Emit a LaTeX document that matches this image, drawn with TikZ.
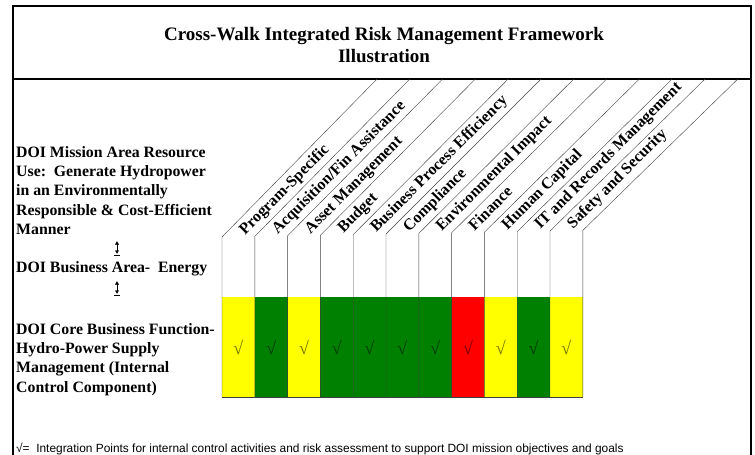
\documentclass[tikz,border=0pt]{standalone}
\usepackage{fontspec}
\setmainfont{Liberation Serif}
\setsansfont{Liberation Sans}
\usetikzlibrary{arrows.meta}

\definecolor{cellyellow}{RGB}{255,255,0}
\definecolor{cellgreen}{RGB}{0,128,0}
\definecolor{cellred}{RGB}{255,0,0}

\begin{document}
\begin{tikzpicture}[x = 1pt, y = -1pt, > = {Latex[length = 3.5pt, width = 4pt]},
	every node/.style = {text = black, inner sep = 0pt},
	lefttext/.style = {font = \bfseries\fontsize{15.8}{19.3}\selectfont, align = left},
	colname/.style = {font = \bfseries\fontsize{16}{16}\selectfont, rotate = 45, anchor = base west}]

	% Definitions

	\def\X{222}		% Left edge of first column
	\def\W{32.8}	% Column width
	\def\K{237}		% Height where the first column line bends
	\def\T{297}		% Top of colour band
	\def\B{397}		% Bottom of colour band
	\def\D{79}		% Title divider
	\def\S{155}		% Run of slanted lines

	\useasboundingbox (0, 0) rectangle (755, 455);

	% Frame and title

	\draw [line width = 1.6pt] (13, 470) -- (13, 6) -- (751, 6) -- (751, 470);
	\draw [line width = 1.2pt] (13, \D) -- (751, \D);
	\node [font = \bfseries\fontsize{19}{22.5}\selectfont, align = center, anchor = north] (title) at (384, 27)
		{Cross-Walk Integrated Risk Management Framework\\Illustration};

	% Descriptions on the left

	\node [lefttext, anchor = north west] (mission) at (16, 146)
		{DOI Mission Area Resource\\Use:~~Generate Hydropower\\in an Environmentally\\Responsible \& Cost-Efficient\\Manner};
	\node [lefttext, anchor = base west] (business) at (16, 272) {DOI Business Area-~~Energy};
	\node [lefttext, anchor = north west] (core) at (16, 323)
		{DOI Core Business Function-\\Hydro-Power Supply\\Management (Internal\\Control Component)};

	% Arrows between the descriptions

	\coordinate (top1) at (117, 241);
	\coordinate (bot1) at (117, 254);
	\coordinate (top2) at (117, 281);
	\coordinate (bot2) at (117, 294);

	\begin{scope}[<->, thin]
		\draw (top1) -- (bot1);
		\draw (top2) -- (bot2);
	\end{scope}
	\draw ([xshift = -3pt, yshift = -1.5pt] bot1) -- ([xshift = 3pt, yshift = -1.5pt] bot1);
	\draw ([xshift = -3pt, yshift = -1.5pt] bot2) -- ([xshift = 3pt, yshift = -1.5pt] bot2);

	% Coloured cells, check marks and column names

	\foreach \lbl/\clr [count = \i] in {Program-Specific/cellyellow, {Acquisition/Fin Assistance}/cellgreen,
		Asset Management/cellyellow, Budget/cellgreen, Business Process Efficiency/cellgreen,
		Compliance/cellgreen, Environmental Impact/cellgreen, Finance/cellred,
		Human Capital/cellyellow, IT and Records Management/cellgreen, Safety and Security/cellyellow}
	{
		\pgfmathsetmacro{\xl}{\X + (\i - 1) * \W}
		\pgfmathsetmacro{\xr}{\X + \i * \W}
		\fill [\clr] (\xl, \T) rectangle (\xr, \B);
		\node [font = \fontsize{18}{18}\selectfont, text opacity = 0.55] (chk\i) at ({(\xl + \xr) / 2}, 347) {√};
		\node [colname] (col\i) at (\xl + 23, {\K - 0.6 * \i - 1}) {\lbl};
	}

	% Column lines, bent up to the title divider

	\foreach \i in {0, ..., 11}
		\draw [thin, black!75] (\X + \i * \W, \B) -- (\X + \i * \W, \K - 0.6 * \i) -- (\X + \i * \W + \S, \D);
	\draw [thin, black!75] (\X, \B) -- (\X + 11 * \W, \B);

	% Legend

	\node [font = \sffamily\fontsize{11.9}{12}\selectfont, anchor = base west] (legend) at (16, 452)
		{√=~~Integration Points for internal control activities and risk assessment to support DOI mission objectives and goals};

\end{tikzpicture}
\end{document}
